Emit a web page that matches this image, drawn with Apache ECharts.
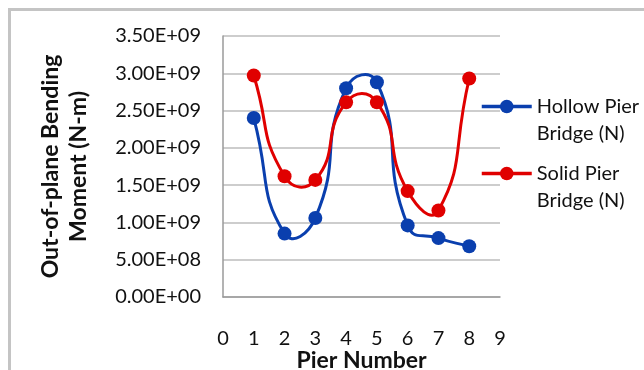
<!DOCTYPE html>
<html>
<head>
<meta charset="utf-8">
<script src="https://cdn.jsdelivr.net/npm/echarts@6/dist/echarts.min.js"></script>
<style>
  html, body { margin: 0; padding: 0; background: #ffffff; }
  #chart { width: 644px; height: 370px; }
</style>
</head>
<body>
<div id="chart"></div>
<script>
// Pier positions along the bridge
const piers = [1, 2, 3, 4, 5, 6, 7, 8];
// Out-of-plane bending moment (N-m) at each pier
const hollowPier = [2.40e9, 0.85e9, 1.06e9, 2.80e9, 2.88e9, 0.96e9, 0.79e9, 0.68e9];
const solidPier  = [2.97e9, 1.62e9, 1.57e9, 2.61e9, 2.61e9, 1.42e9, 1.16e9, 2.93e9];
const seriesNames = ['Hollow Pier Bridge (N)', 'Solid Pier Bridge (N)'];
const legendLabels = ['Hollow Pier\nBridge (N)', 'Solid Pier\nBridge (N)'];

const FONT = 'Lato';
const BLUE = '#0a3fae';
const RED = '#e00000';
const SMOOTH = 0.55;

function sciLabel(v) {
  const s = v.toExponential(2);          // e.g. "3.50e+9"
  const parts = s.split('e');
  const sign = parts[1][0] === '-' ? '-' : '+';
  const exp = Math.abs(parseInt(parts[1], 10)).toString().padStart(2, '0');
  return parts[0] + 'E' + sign + exp;
}

function pairs(xs, ys) { return xs.map((x, i) => [x, ys[i]]); }

// Cubic Bezier path through the points, control points set by the
// neighbouring chord (no clamping, so the curve may overshoot a little).
function smoothPath(pts, s) {
  const n = pts.length;
  const fwd = [], back = [];
  for (let i = 0; i < n; i++) {
    const p = pts[i];
    const prev = pts[Math.max(i - 1, 0)];
    const next = pts[Math.min(i + 1, n - 1)];
    const vx = next[0] - prev[0], vy = next[1] - prev[1];
    const lp = Math.hypot(p[0] - prev[0], p[1] - prev[1]);
    const ln = Math.hypot(next[0] - p[0], next[1] - p[1]);
    const r = (lp + ln) > 0 ? ln / (lp + ln) : 0.5;
    back.push([p[0] - vx * s * (1 - r), p[1] - vy * s * (1 - r)]);
    fwd.push([p[0] + vx * s * r, p[1] + vy * s * r]);
  }
  let d = 'M' + pts[0][0] + ' ' + pts[0][1];
  for (let i = 0; i < n - 1; i++) {
    d += ' C' + fwd[i][0] + ' ' + fwd[i][1] + ' ' + back[i + 1][0] + ' ' + back[i + 1][1] +
         ' ' + pts[i + 1][0] + ' ' + pts[i + 1][1];
  }
  return d;
}

function curveSeries(ys, color) {
  return {
    type: 'custom',
    silent: true,
    z: 1,
    data: [[piers[0], ys[0]]],
    renderItem: function (params, api) {
      const pts = piers.map((x, i) => api.coord([x, ys[i]]));
      return {
        type: 'path',
        shape: { pathData: smoothPath(pts, SMOOTH) },
        style: { fill: 'none', stroke: color, lineWidth: 3, lineJoin: 'round' }
      };
    }
  };
}

function markerSeries(name, ys, color, z) {
  return {
    name: name,
    type: 'line',
    data: pairs(piers, ys),
    symbol: 'circle',
    symbolSize: 14,
    showAllSymbol: true,
    lineStyle: { color: color, width: 3, opacity: 0 },
    itemStyle: { color: color },
    z: z
  };
}

function legendFor(idx, top) {
  return {
    data: [seriesNames[idx]],
    left: 480,
    top: top,
    padding: 0,
    itemWidth: 50,
    itemHeight: 17,
    itemGap: 0,
    lineStyle: { width: 3.5, opacity: 1 },
    formatter: () => ' \n' + legendLabels[idx],
    textStyle: {
      fontFamily: FONT,
      fontSize: 20,
      color: '#111',
      lineHeight: 27
    }
  };
}

const chart = echarts.init(document.getElementById('chart'), null, { renderer: 'canvas' });
chart.setOption({
  animation: false,
  backgroundColor: '#ffffff',
  textStyle: { fontFamily: FONT },
  graphic: [
    { type: 'line', shape: { x1: 9.5, y1: 8, x2: 9.5, y2: 370 }, style: { stroke: '#c4c4c4', lineWidth: 3 } },
    { type: 'line', shape: { x1: 8, y1: 9.5, x2: 644, y2: 9.5 }, style: { stroke: '#c4c4c4', lineWidth: 3 } }
  ],
  grid: { left: 223, right: 144, top: 36, bottom: 73, outerBoundsMode: 'none', containLabel: false },
  legend: [legendFor(0, 66), legendFor(1, 133)],
  xAxis: {
    type: 'value',
    min: 0, max: 9, interval: 1,
    name: 'Pier Number',
    nameLocation: 'middle',
    nameGap: 52,
    nameMoveOverlap: false,
    nameTextStyle: { fontFamily: FONT, fontWeight: 'bold', fontSize: 23, color: '#111' },
    axisLine: { show: true, lineStyle: { color: '#9a9a9a', width: 1.5 } },
    axisTick: { show: false },
    splitLine: { show: false },
    axisLabel: { fontFamily: FONT, fontSize: 20, color: '#111', margin: 32 }
  },
  yAxis: {
    type: 'value',
    min: 0, max: 3.5e9, interval: 0.5e9,
    name: 'Out-of-plane Bending\nMoment (N-m)',
    nameLocation: 'middle',
    nameGap: 130,
    nameMoveOverlap: false,
    nameTextStyle: { fontFamily: FONT, fontWeight: 'bold', fontSize: 23, color: '#111', lineHeight: 28 },
    axisLine: { show: true, lineStyle: { color: '#9a9a9a', width: 1.5 } },
    axisTick: { show: false },
    splitLine: { show: true, lineStyle: { color: '#bdbdbd', width: 1.5 } },
    axisLabel: { fontFamily: FONT, fontSize: 20, color: '#111', margin: 22, formatter: sciLabel }
  },
  series: [
    curveSeries(hollowPier, BLUE),
    curveSeries(solidPier, RED),
    markerSeries(seriesNames[0], hollowPier, BLUE, 3),
    markerSeries(seriesNames[1], solidPier, RED, 4)
  ]
});
</script>
</body>
</html>
